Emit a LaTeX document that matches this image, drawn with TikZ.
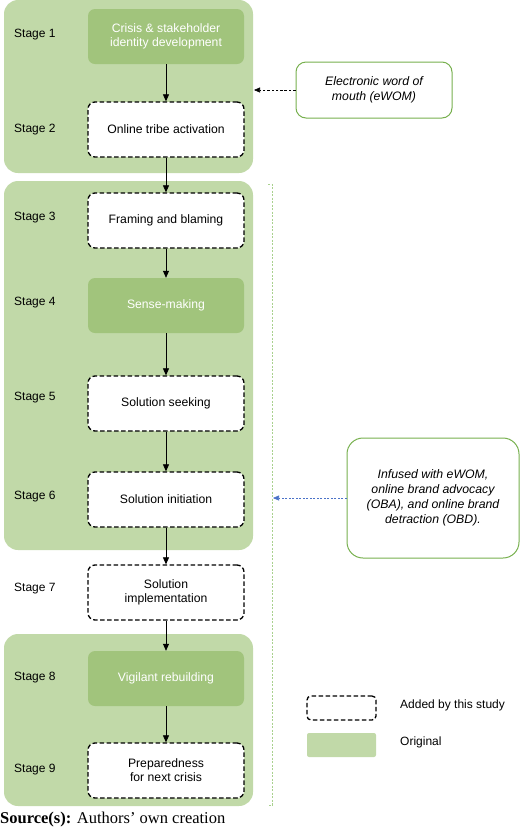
\documentclass[tikz,border=0pt]{standalone}
\usepackage{fontspec}
\setmainfont{Liberation Sans}
\newfontfamily\serifsrc{Liberation Serif}
\usetikzlibrary{arrows.meta,positioning}
\definecolor{grplight}{HTML}{C1D9A8}
\definecolor{boxdark}{HTML}{A1C47C}
\definecolor{brdgreen}{HTML}{77B04E}
\definecolor{arrblue}{HTML}{4A72C8}
\definecolor{brkgreen}{HTML}{A9D18E}
\begin{document}
\begin{tikzpicture}[x=1pt,y=-1pt,
  grp/.style={fill=grplight,draw=none,rounded corners=14pt},
  orig/.style={fill=boxdark,draw=none,rounded corners=7pt,minimum width=156pt,minimum height=55pt,text=white,align=center,font=\fontsize{12.2}{14}\selectfont,inner sep=0pt},
  added/.style={fill=white,draw=black,line width=1.3pt,dash pattern=on 4.5pt off 2.5pt,rounded corners=7pt,minimum width=156pt,minimum height=55pt,align=center,font=\fontsize{12.2}{14}\selectfont,inner sep=0pt},
  note/.style={fill=white,draw=brdgreen,line width=1pt,rounded corners=10pt,align=center,font=\itshape\fontsize{12.3}{15}\selectfont,inner sep=0pt},
  stlab/.style={anchor=west,font=\fontsize{12}{14}\selectfont,inner sep=0pt},
  flow/.style={-{Triangle[length=7pt,width=6pt]},line width=0.7pt}
]
\useasboundingbox (0,0) rectangle (520,831);
% groups
\path[grp] (4,0) rectangle (253,173);
\path[grp] (4,181) rectangle (253,550);
\path[grp] (4,634) rectangle (253,806);
% boxes
\node[orig]  (s1) at (166,36.5) {Crisis \& stakeholder\\identity development};
\node[added] (s2) at (166,129.5) {Online tribe activation};
\node[added] (s3) at (166,220.5) {Framing and blaming};
\node[orig]  (s4) at (166,305.5) {Sense-making};
\node[added] (s5) at (166,403.5) {Solution seeking};
\node[added] (s6) at (166,499.5) {Solution initiation};
\node[added] (s7) at (166,592.5) {Solution\\implementation};
\node[orig]  (s8) at (166,678.5) {Vigilant rebuilding};
\node[added] (s9) at (166,770.5) {Preparedness\\for next crisis};
% stage labels
\node[stlab] (l1) at (14,35) {Stage 1};
\node[stlab] (l2) at (14,130) {Stage 2};
\node[stlab] (l3) at (14,218) {Stage 3};
\node[stlab] (l4) at (14,303) {Stage 4};
\node[stlab] (l5) at (14,398) {Stage 5};
\node[stlab] (l6) at (14,497) {Stage 6};
\node[stlab] (l7) at (14,589) {Stage 7};
\node[stlab] (l8) at (14,678) {Stage 8};
\node[stlab] (l9) at (14,770) {Stage 9};
% flow arrows
\draw[flow] (s1) -- (s2);
\draw[flow] (s2) -- (s3);
\draw[flow] (s3) -- (s4);
\draw[flow] (s4) -- (s5);
\draw[flow] (s5) -- (s6);
\draw[flow] (s6) -- (s7);
\draw[flow] (s7) -- (s8);
\draw[flow] (s8) -- (s9);
% notes
\node[note,minimum width=156pt,minimum height=56pt] (ew) at (374,90) {Electronic word of\\mouth (eWOM)};
\coordinate (g1r) at (254,90);
\draw[-{Triangle[length=6pt,width=5pt]},line width=0.6pt,dash pattern=on 2.5pt off 1.8pt] (ew.west) -- (g1r);
\node[note,minimum width=172pt,minimum height=120pt,rounded corners=16pt] (inf) at (433,498) {Infused with eWOM,\\online brand advocacy\\(OBA), and online brand\\detraction (OBD).};
\coordinate (brk) at (273,498);
\draw[-{Triangle[length=6pt,width=5pt]},arrblue,line width=0.6pt,dash pattern=on 2pt off 1.5pt] (inf.west) -- (brk);
% bracket
\draw[brkgreen,line width=0.8pt,dash pattern=on 2pt off 1.5pt] (268,184) -- (272,184) -- (272,805) -- (268,805);
% legend
\node[added,minimum width=69pt,minimum height=24pt,rounded corners=4pt] (leg1) at (341.5,708) {};
\node[fill=grplight,minimum width=69pt,minimum height=24pt,rounded corners=2pt,inner sep=0pt] (leg2) at (341.5,745) {};
\node[stlab] (lt1) at (400,705) {Added by this study};
\node[stlab] (lt2) at (400,742) {Original};
% source
\node[anchor=west,inner sep=0pt,font=\serifsrc\fontsize{16.5}{18}\selectfont] (src) at (0,820) {\textbf{Source(s):} Authors’ own creation};
\end{tikzpicture}
\end{document}
